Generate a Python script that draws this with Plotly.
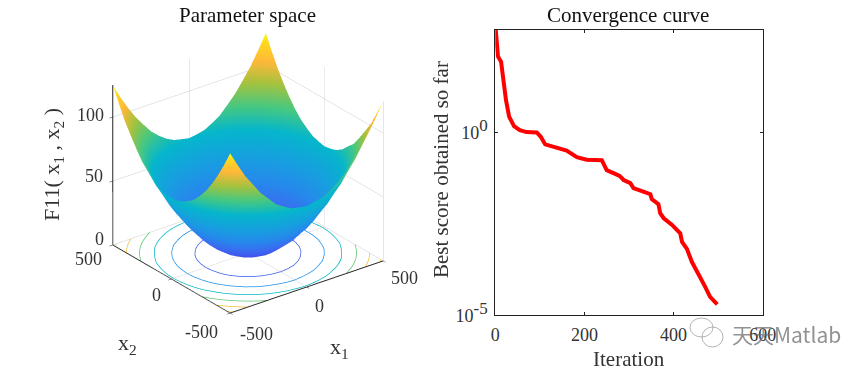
import plotly.graph_objects as go

SERIF = "Liberation Serif"
GREY = "#333333"

# Convergence curve
iterations = [1, 2, 3, 6, 13, 17, 24, 31, 42, 55, 70, 93, 102, 112, 130, 160, 183, 205, 239, 250, 279,
              288, 303, 310, 329, 348, 351, 366, 370, 378, 396, 415, 419, 430, 441, 456, 471, 482, 498]
best_score = [6.3e2, 4e2, 2.2e2, 1.2e2, 85, 33, 7.6, 2.7, 1.48, 1.15, 1.02, 1.0, 0.76, 0.47, 0.41, 0.32, 0.21,
              0.18, 0.174, 0.093, 0.065, 0.05, 0.041, 0.03, 0.025, 0.0204, 0.015, 0.011, 0.0062, 0.0045,
              0.003, 0.00174, 0.00102, 0.00065, 0.00029, 0.00014, 0.00006, 0.000032, 0.00002]

# Parameter-space surface
x1 = [-500, -450, -400, -350, -300, -250, -200, -150, -100, -50, 0, 50, 100, 150, 200, 250, 300, 350, 400, 450, 500]
x2 = list(x1)
F11 = [
 [125,113.6,102.9,94.4,85.7,79.3,72.9,69.1,65.6,64.3,63.1,64.4,65.7,68.8,73.4,78.6,86.2,93.7,103.3,113.4,125],
 [113.5,102.2,91.4,82.6,73.8,67.4,61.3,56.9,54.0,52.1,51.2,51.9,54.4,57.2,61.9,66.8,74.3,82.0,91.8,101.7,113.8],
 [103.1,91.2,81.4,71.2,63.7,56.2,51.3,46.2,43.7,41.2,40.4,41.8,43.2,46.9,50.7,56.9,63.1,71.9,80.6,91.9,102.7],
 [93.7,82.1,71.8,62.2,53.6,47.3,41.2,37.4,33.8,32.0,31.4,31.9,34.3,36.9,41.9,46.8,54.2,61.7,72.1,81.8,94.2],
 [85.6,74.0,63.2,53.9,45.8,39.0,33.4,28.9,25.7,24.1,23.2,23.8,26.1,28.6,33.1,38.8,46.2,53.6,63.8,73.7,86.0],
 [78.9,67.1,56.8,47.0,39.2,32.2,26.4,22.1,19.0,17.0,16.2,17.2,18.8,22.4,26.0,32.6,38.8,47.4,56.2,67.6,78.4],
 [73.2,61.1,50.8,41.6,33.1,26.2,20.8,16.4,13.1,11.4,10.6,11.8,13.4,16.0,21.2,25.8,33.6,41.1,51.3,60.7,73.6],
 [69.0,56.8,46.3,37.1,29.2,21.8,16.2,12.2,8.9,7.1,6.2,7.4,8.7,12.0,16.6,22.1,28.7,37.4,45.9,57.2,68.6],
 [65.8,53.9,43.4,34.0,25.9,18.8,13.2,8.8,5.8,3.8,2.9,4.0,5.6,9.1,12.9,19.1,25.6,34.3,42.9,54.2,65.4],
 [64.0,52.3,41.4,32.1,23.9,17.1,11.4,7.0,4.0,2.0,1.2,2.3,3.8,7.2,11.8,16.8,24.2,31.9,41.7,51.9,63.8],
 [63.2,51.4,40.8,31.3,23.1,16.3,10.7,6.3,3.1,1.3,0.0,1.4,3.2,6.1,10.9,16.0,23.5,31.0,41.1,51.1,63.0],
 [63.7,52.0,41.7,31.8,24.2,16.9,11.7,6.9,4.1,1.9,1.3,2.1,4.0,7.1,11.6,17.0,23.8,32.2,41.3,52.2,64.1],
 [65.5,54.2,42.9,34.2,25.7,19.0,12.9,9.0,5.7,3.9,3.0,3.8,5.8,8.7,13.1,18.8,26.0,34.0,43.3,53.8,65.7],
 [68.7,57.1,46.0,37.3,28.8,22.0,16.5,12.1,8.8,7.2,6.3,7.2,8.9,12.3,16.3,21.9,29.1,37.2,46.2,56.9,69.1],
 [73.5,60.8,51.2,41.2,33.5,25.9,21.1,16.1,13.3,11.6,10.7,11.5,13.2,16.3,20.9,26.1,33.2,41.5,50.9,61.0,73.1],
 [78.5,67.5,56.3,47.3,38.9,32.5,26.1,22.3,18.9,17.1,16.3,17.1,19.1,22.2,26.3,32.3,39.1,47.1,56.7,67.2,78.8],
 [85.9,73.8,63.7,53.7,46.1,38.9,33.2,28.7,26.0,23.9,23.3,24.0,25.8,28.8,33.3,39.1,45.9,53.8,63.3,73.9,85.7],
 [94.1,81.9,72.0,61.8,54.1,46.9,41.8,37.0,34.2,31.8,31.5,32.1,33.9,37.3,41.3,47.2,53.7,62.1,71.9,82.0,93.8],
 [102.8,91.8,80.7,71.8,63.2,56.8,50.8,46.8,43.3,41.7,40.5,41.3,43.6,46.3,51.2,56.3,63.6,71.3,81.3,91.3,103.0],
 [113.7,101.8,91.7,82.1,74.2,66.9,61.8,57.1,54.3,52.0,51.3,52.0,54.1,57.0,61.4,67.3,73.9,82.5,91.5,102.1,113.6],
 [125,113.5,103.2,93.8,86.1,78.7,73.3,68.9,65.8,64.4,63.2,64.2,65.6,69.0,73.0,79.2,85.8,94.3,103.0,113.7,125],
]
contour_levels = [20, 40, 60, 80, 100, 120]
contour_colors = ["#3A5CF0", "#1E8FEA", "#05B8C4", "#5CC870", "#F0BE30", "#F5D820"]
parula = [[0.0, "#3F3FD0"], [0.08, "#3F55F0"], [0.16, "#3A6CF0"], [0.25, "#2688EC"], [0.36, "#189EE0"],
          [0.5, "#05B6CC"], [0.62, "#45C882"], [0.74, "#A5C23E"], [0.85, "#FDB83A"], [0.95, "#FDD820"],
          [1.0, "#F9FB14"]]

x_ticks = [-500, 0, 500]
y_ticks = [-500, 0, 500]
z_ticks = [0, 50, 100]


def axis3d(vals, rng):
    return dict(range=rng, tickvals=vals, showticklabels=False,
                title=dict(text=""), showbackground=False,
                showgrid=True, gridcolor="#cccccc", gridwidth=1, zeroline=False, showline=True,
                linecolor="#222222", linewidth=2, ticks="outside", ticklen=4, tickcolor="#222222",
                showspikes=False)


def level_segments(level):
    """Contour of the F11 grid at one level, by marching squares."""
    xs, ys = [], []
    for j in range(len(x2) - 1):
        for i in range(len(x1) - 1):
            corners = [(x1[i], x2[j], F11[j][i]), (x1[i + 1], x2[j], F11[j][i + 1]),
                       (x1[i + 1], x2[j + 1], F11[j + 1][i + 1]), (x1[i], x2[j + 1], F11[j + 1][i])]
            pts = []
            for a, b in zip(corners, corners[1:] + corners[:1]):
                if (a[2] - level) * (b[2] - level) < 0:
                    t = (level - a[2]) / (b[2] - a[2])
                    pts.append((a[0] + t * (b[0] - a[0]), a[1] + t * (b[1] - a[1])))
            for s in range(0, len(pts) - 1, 2):
                xs += [pts[s][0], pts[s + 1][0], None]
                ys += [pts[s][1], pts[s + 1][1], None]
    return xs, ys


fig = go.Figure()
fig.add_trace(go.Surface(
    x=x1, y=x2, z=F11, colorscale=parula, cmin=0, cmax=125, showscale=False,
    lighting=dict(ambient=1, diffuse=0, specular=0, fresnel=0, roughness=1),
    hoverinfo="skip"))
for level, color in zip(contour_levels, contour_colors):
    xs, ys = level_segments(level)
    fig.add_trace(go.Scatter3d(x=xs, y=ys, z=[None if v is None else 0 for v in xs], mode="lines",
                               line=dict(color=color, width=1.5), hoverinfo="skip"))
fig.add_trace(go.Scatter(x=iterations, y=best_score, mode="lines", xaxis="x", yaxis="y",
                         line=dict(color="#FF0000", width=4), hoverinfo="skip"))

W, H = 868, 371
cx, cy = 247.5, 173
hw, hh = 240, 170
k = 1.29
fig.update_layout(
    width=W, height=H, autosize=False, margin=dict(l=0, r=0, t=0, b=0, autoexpand=False),
    paper_bgcolor="white", plot_bgcolor="white", showlegend=False,
    scene=dict(
        domain=dict(x=[(cx - hw) / W, (cx + hw) / W], y=[(H - cy - hh) / H, (H - cy + hh) / H]),
        xaxis=axis3d(x_ticks, [-500, 500]),
        yaxis=axis3d(y_ticks, [-500, 500]),
        zaxis=axis3d(z_ticks, [0, 125]),
        aspectmode="manual", aspectratio=dict(x=1.135, y=1.135, z=1.05),
        camera=dict(eye=dict(x=-0.545 * k, y=-0.711 * k, z=0.445 * k), up=dict(x=0, y=0, z=1),
                    center=dict(x=0, y=0, z=0), projection=dict(type="orthographic")),
    ),
    xaxis=dict(domain=[495.3 / W, 762.7 / W], range=[0, 600], tickvals=[0, 200, 400, 600],
               automargin=False, ticklabelstandoff=3,
               showgrid=False, zeroline=False, showline=True, mirror="ticks", linecolor="#222222",
               linewidth=1, ticks="inside", ticklen=3, tickcolor="#222222",
               tickfont=dict(family=SERIF, size=18, color=GREY)),
    yaxis=dict(domain=[(H - 315.3) / H, (H - 30) / H], type="log", range=[-5, 2.8],
               automargin=False, ticklabelstandoff=3,
               tickvals=[1e-5, 1],
               ticktext=["10<sup><span style='font-size:135%'>-5</span></sup>",
                         "10<sup><span style='font-size:135%'>0</span></sup>"],
               showgrid=False, zeroline=False, showline=True, mirror="ticks", linecolor="#222222",
               linewidth=1, ticks="inside", ticklen=3, tickcolor="#222222",
               tickfont=dict(family=SERIF, size=18, color=GREY)),
)


def label(px, py, text, size=21, angle=0, color="#111111", family=SERIF):
    fig.add_annotation(x=px / W, y=1 - py / H, xref="paper", yref="paper", text=text, showarrow=False,
                       textangle=angle, font=dict(family=family, size=size, color=color),
                       xanchor="center", yanchor="middle")


label(247, 15, "Parameter space", 21)
label(628, 15, "Convergence curve", 21)
label(629, 359, "Iteration", 21, color="#333333")
label(441, 170, "Best score obtained so far", 21, angle=-90, color="#333333")
label(339, 348, "x<sub>1</sub>", 22, color="#333333")
label(127, 344, "x<sub>2</sub>", 22, color="#333333")
label(53, 165, "F11( x<sub>1</sub> , x<sub>2</sub> )", 22, angle=-90, color="#333333")

for v, (px, py) in zip(x_ticks, [(256, 334), (319, 306), (404, 278)]):
    label(px, py, str(v), 18, color=GREY)
for v, (px, py) in zip(y_ticks, [(201, 332), (156, 295), (88, 259)]):
    label(px, py, str(v), 18, color=GREY)
for v, (px, py) in zip(z_ticks, [(99, 239), (94, 176), (90, 115)]):
    label(px, py, str(v), 18, color=GREY)

for x0, y0, x1p, y1p in [(690, 318, 713, 337), (702, 327, 723, 347)]:
    fig.add_shape(type="circle", xref="paper", yref="paper", x0=x0 / W, x1=x1p / W,
                  y0=1 - y0 / H, y1=1 - y1p / H, line=dict(color="rgba(130,130,130,0.6)", width=1))
label(786, 334, "天天Matlab", 21, color="rgba(110,110,110,0.75)", family="Noto Sans CJK SC")

fig.write_html("out.html", config={"displayModeBar": False},
               post_script="document.body.style.margin='0';document.body.style.overflow='hidden';")
